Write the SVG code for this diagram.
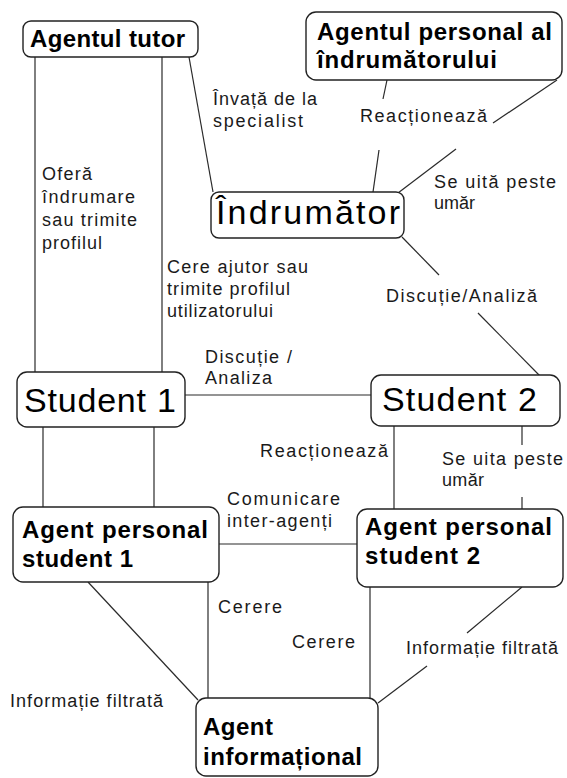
<svg xmlns="http://www.w3.org/2000/svg" width="567" height="778" viewBox="0 0 567 778">
<style>
.box{fill:#fff;stroke:#222;stroke-width:1.4}
.ln{stroke:#2a2a2a;stroke-width:1.2;fill:none}
.nb{font-family:"Liberation Sans",Arial,sans-serif;font-size:24px;font-weight:bold;fill:#000}
.nr{font-family:"Liberation Sans",Arial,sans-serif;font-size:34px;fill:#000}
.lb{font-family:"Liberation Sans",Arial,sans-serif;font-size:18px;fill:#1a1a1a}
</style>
<rect width="567" height="778" fill="#fff"/>
<g id="connectors">
<line class="ln" x1="35" y1="57" x2="35" y2="372"/>
<line class="ln" x1="162" y1="57" x2="162" y2="372"/>
<line class="ln" x1="189" y1="57" x2="213" y2="192"/>
<line class="ln" x1="387" y1="80" x2="383" y2="99"/>
<line class="ln" x1="379" y1="150" x2="373" y2="192"/>
<line class="ln" x1="557" y1="80" x2="493" y2="123"/>
<line class="ln" x1="456" y1="149" x2="398" y2="193"/>
<line class="ln" x1="402" y1="237" x2="439" y2="275"/>
<line class="ln" x1="478" y1="313" x2="540" y2="376"/>
<line class="ln" x1="185" y1="395" x2="371" y2="395"/>
<line class="ln" x1="43" y1="427" x2="43" y2="507"/>
<line class="ln" x1="154" y1="427" x2="154" y2="507"/>
<line class="ln" x1="394" y1="426" x2="394" y2="509"/>
<line class="ln" x1="522" y1="426" x2="522" y2="445"/>
<line class="ln" x1="522" y1="497" x2="522" y2="509"/>
<line class="ln" x1="219" y1="544" x2="357" y2="544"/>
<line class="ln" x1="88" y1="582" x2="198" y2="700"/>
<line class="ln" x1="208" y1="582" x2="208" y2="698"/>
<line class="ln" x1="370" y1="587" x2="370" y2="698"/>
<line class="ln" x1="522" y1="587" x2="467" y2="633"/>
<line class="ln" x1="427" y1="666" x2="378" y2="703"/>
</g>
<g id="labels">
<text class="lb" x="213" y="105" textLength="104" lengthAdjust="spacing">Învață de la</text>
<text class="lb" x="213" y="127" textLength="90" lengthAdjust="spacing">specialist</text>
<text class="lb" x="360" y="122" textLength="127" lengthAdjust="spacing">Reacționează</text>
<text class="lb" x="434" y="188" textLength="122" lengthAdjust="spacing">Se uită peste</text>
<text class="lb" x="434" y="209" textLength="41" lengthAdjust="spacing">umăr</text>
<text class="lb" x="42" y="180" textLength="50" lengthAdjust="spacing">Oferă</text>
<text class="lb" x="42" y="203" textLength="93" lengthAdjust="spacing">îndrumare</text>
<text class="lb" x="42" y="226" textLength="95" lengthAdjust="spacing">sau trimite</text>
<text class="lb" x="42" y="249" textLength="60" lengthAdjust="spacing">profilul</text>
<text class="lb" x="167" y="273" textLength="141" lengthAdjust="spacing">Cere ajutor sau</text>
<text class="lb" x="167" y="295" textLength="123" lengthAdjust="spacing">trimite profilul</text>
<text class="lb" x="167" y="317" textLength="106" lengthAdjust="spacing">utilizatorului</text>
<text class="lb" x="386" y="302" textLength="151" lengthAdjust="spacing">Discuție/Analiză</text>
<text class="lb" x="205" y="363" textLength="87" lengthAdjust="spacing">Discuție /</text>
<text class="lb" x="205" y="384" textLength="67" lengthAdjust="spacing">Analiza</text>
<text class="lb" x="260" y="457" textLength="128" lengthAdjust="spacing">Reacționează</text>
<text class="lb" x="442" y="465" textLength="121" lengthAdjust="spacing">Se uita peste</text>
<text class="lb" x="442" y="486" textLength="42" lengthAdjust="spacing">umăr</text>
<text class="lb" x="227" y="505" textLength="113" lengthAdjust="spacing">Comunicare</text>
<text class="lb" x="227" y="527" textLength="105" lengthAdjust="spacing">inter-agenți</text>
<text class="lb" x="218" y="613" textLength="64" lengthAdjust="spacing">Cerere</text>
<text class="lb" x="292" y="648" textLength="63" lengthAdjust="spacing">Cerere</text>
<text class="lb" x="406" y="654" textLength="152" lengthAdjust="spacing">Informație filtrată</text>
<text class="lb" x="10" y="707" textLength="153" lengthAdjust="spacing">Informație filtrată</text>
</g>
<g id="agentul-tutor">
<rect class="box" x="23" y="21" width="175" height="36" rx="8"/>
<text class="nb" x="30" y="47" textLength="155" lengthAdjust="spacing">Agentul tutor</text>
</g>
<g id="agentul-personal-indrumator">
<rect class="box" x="306" y="12" width="256" height="68" rx="10"/>
<text class="nb" x="317" y="40" textLength="235" lengthAdjust="spacing">Agentul personal al</text>
<text class="nb" x="317" y="68" textLength="180" lengthAdjust="spacing">îndrumătorului</text>
</g>
<g id="indrumator">
<rect class="box" x="211" y="192" width="193" height="46" rx="8"/>
<text class="nr" x="216" y="224" textLength="184" lengthAdjust="spacing">Îndrumător</text>
</g>
<g id="student1">
<rect class="box" x="17" y="372" width="168" height="55" rx="10"/>
<text class="nr" x="24" y="412" textLength="152" lengthAdjust="spacing">Student 1</text>
</g>
<g id="student2">
<rect class="box" x="371" y="375" width="189" height="51" rx="10"/>
<text class="nr" x="382" y="411" textLength="155" lengthAdjust="spacing">Student 2</text>
</g>
<g id="agent-personal-student1">
<rect class="box" x="13" y="507" width="206" height="75" rx="10"/>
<text class="nb" x="22" y="538" textLength="186" lengthAdjust="spacing">Agent personal</text>
<text class="nb" x="22" y="567" textLength="111" lengthAdjust="spacing">student 1</text>
</g>
<g id="agent-personal-student2">
<rect class="box" x="357" y="509" width="206" height="78" rx="10"/>
<text class="nb" x="365" y="535" textLength="187" lengthAdjust="spacing">Agent personal</text>
<text class="nb" x="365" y="564" textLength="115" lengthAdjust="spacing">student 2</text>
</g>
<g id="agent-informational">
<rect class="box" x="196" y="698" width="182" height="78" rx="10"/>
<text class="nb" x="203" y="735" textLength="70" lengthAdjust="spacing">Agent</text>
<text class="nb" x="203" y="765" textLength="159" lengthAdjust="spacing">informațional</text>
</g>
</svg>
